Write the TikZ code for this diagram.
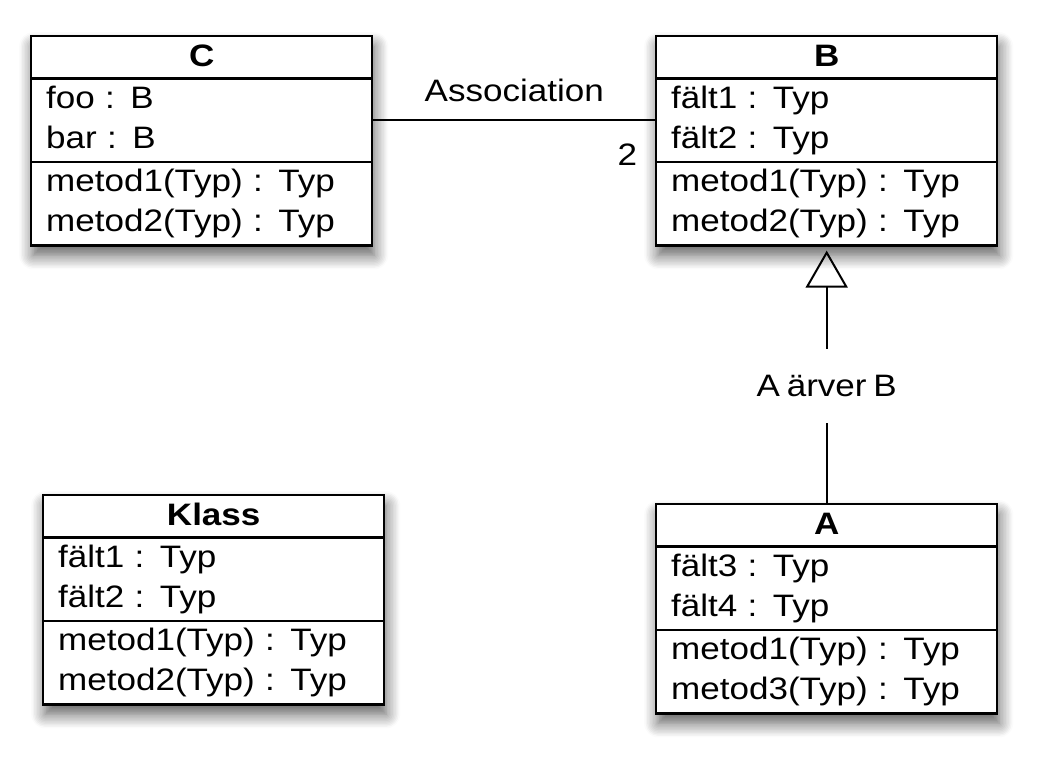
\documentclass[tikz,border=0pt]{standalone}
\usepackage{fontspec}
\setmainfont{Liberation Sans}[FakeStretch=1.13, WordSpace=0.7]
\usetikzlibrary{shapes.multipart,arrows.meta,shadows.blur}
\tikzset{
  klass/.style = {rectangle split, rectangle split parts=3,
                  draw, line width=1.2pt, fill=white,
                  text width=155.5pt, inner xsep=7.5pt, inner ysep=0.25pt,
                  anchor=north west,
                  blur shadow={shadow xshift=1pt, shadow yshift=-5pt,
                               shadow blur radius=7pt, shadow blur steps=10,
                               shadow opacity=65}},
  relation/.style = {line width=1pt},
  arv/.style = {line width=1pt, -{Triangle[open, length=18.5pt, width=21pt]},
                shorten >=2pt}
}
\newcommand{\rubrik}[1]{\hbox to\hsize{\hfil\rule[-5pt]{0pt}{19.5pt}\textbf{#1}\hfil}}

\begin{document}
\begin{tikzpicture}[x=0.5pt, y=-0.5pt, font=\fontsize{15.5}{20}\selectfont]
	\useasboundingbox (0,0) rectangle (1046,760);

	% Classes
	\node[klass] (C) at (30,35) {\rubrik{C}
		\nodepart{two} \strut foo : B\\ \strut bar : B
		\nodepart{three} \strut metod1(Typ) : Typ\\ \strut metod2(Typ) : Typ};
	\node[klass] (B) at (655,35) {\rubrik{B}
		\nodepart{two} \strut fält1 : Typ\\ \strut fält2 : Typ
		\nodepart{three} \strut metod1(Typ) : Typ\\ \strut metod2(Typ) : Typ};
	\node[klass] (Klass) at (42,494) {\rubrik{Klass}
		\nodepart{two} \strut fält1 : Typ\\ \strut fält2 : Typ
		\nodepart{three} \strut metod1(Typ) : Typ\\ \strut metod2(Typ) : Typ};
	\node[klass] (A) at (655,503) {\rubrik{A}
		\nodepart{two} \strut fält3 : Typ\\ \strut fält4 : Typ
		\nodepart{three} \strut metod1(Typ) : Typ\\ \strut metod3(Typ) : Typ};

	% Association C - B
	\draw[relation] (C.two east) -- node[above, inner sep=8.5pt] (assoc) {Association}
		node[pos=1, anchor=east, inner sep=0pt, xshift=-8.4pt, yshift=-17pt] (mult) {2}
		(B.two west);

	% A inherits B
	\draw[arv] (A.north) -- node[pos=0.455, fill=white, minimum height=37pt, inner xsep=2pt] (arvtext) {A ärver B} (B.south);

\end{tikzpicture}
\end{document}
